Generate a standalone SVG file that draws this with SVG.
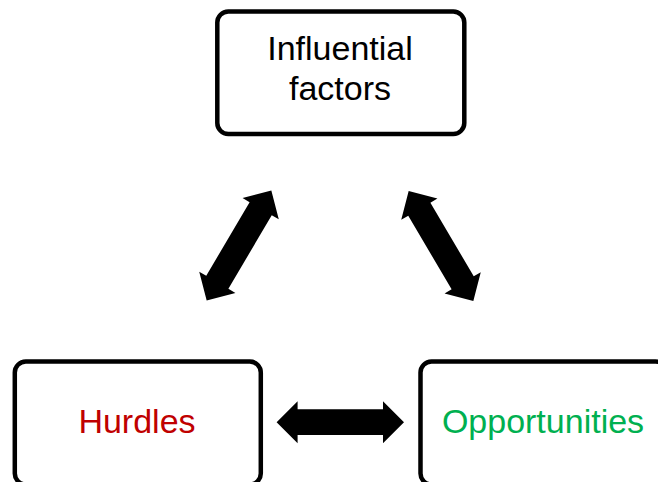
<svg xmlns="http://www.w3.org/2000/svg" width="658" height="482" viewBox="0 0 658 482">
  <defs>
    <style>
      .box { fill: #ffffff; stroke: #000000; stroke-width: 4.5; }
      .lbl { font-family: "Liberation Sans", Arial, sans-serif; font-size: 34px; text-anchor: middle; }
      .arrow { fill: #000000; }
    </style>
    <polygon id="dbl" points="-63.7,0 -42.7,-21 -42.7,-12.85 42.7,-12.85 42.7,-21 63.7,0 42.7,21 42.7,12.85 -42.7,12.85 -42.7,21"/>
  </defs>
  <rect width="658" height="482" fill="#ffffff"/>
  <g id="connectors" class="arrow">
    <use href="#dbl" transform="translate(239,245.5) rotate(-59.5)"/>
    <use href="#dbl" transform="translate(441,246) rotate(59.5)"/>
    <use href="#dbl" transform="translate(340.3,422.2)"/>
  </g>
  <g id="influential-factors">
    <rect class="box" x="217.3" y="11.5" width="247" height="122.5" rx="11"/>
    <text class="lbl" x="340" y="60" fill="#000000">Influential</text>
    <text class="lbl" x="340" y="100" fill="#000000">factors</text>
  </g>
  <g id="hurdles">
    <rect class="box" x="14.8" y="361.5" width="246" height="123" rx="11"/>
    <text class="lbl" x="137" y="433" fill="#C00000">Hurdles</text>
  </g>
  <g id="opportunities">
    <rect class="box" x="420.5" y="361.5" width="246" height="123" rx="11"/>
    <text class="lbl" x="543" y="433" fill="#00B050">Opportunities</text>
  </g>
</svg>
